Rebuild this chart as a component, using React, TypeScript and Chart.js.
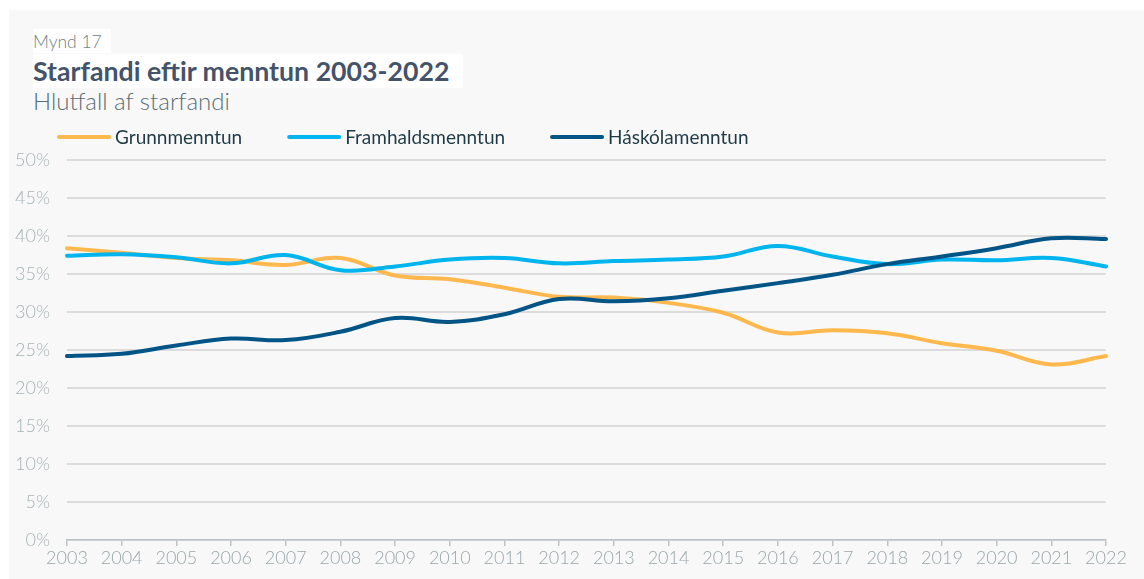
import React, { useEffect, useRef } from "react";
import { Chart, registerables } from "chart.js";

Chart.register(...registerables);

const years = ["2003","2004","2005","2006","2007","2008","2009","2010","2011","2012","2013","2014","2015","2016","2017","2018","2019","2020","2021","2022"];
const grunnmenntun = [38.4, 37.8, 37.1, 36.8, 36.2, 37.1, 34.8, 34.3, 33.2, 32.0, 31.9, 31.2, 29.9, 27.3, 27.6, 27.2, 25.9, 24.9, 23.1, 24.2];
const framhaldsmenntun = [37.4, 37.6, 37.2, 36.4, 37.5, 35.5, 36.0, 36.9, 37.1, 36.4, 36.7, 36.9, 37.3, 38.7, 37.3, 36.3, 36.9, 36.8, 37.1, 36.0];
const haskolamenntun = [24.2, 24.5, 25.6, 26.5, 26.3, 27.4, 29.2, 28.7, 29.7, 31.7, 31.4, 31.8, 32.8, 33.8, 34.9, 36.3, 37.3, 38.4, 39.7, 39.6];
const seriesNames = ["Grunnmenntun", "Framhaldsmenntun", "Háskólamenntun"];
const seriesColors = ["#FFB84D", "#00B4EE", "#005486"];

const legendPlugin = {
  id: "lineLegend",
  afterDraw(chart: any) {
    const ctx = chart.ctx;
    ctx.save();
    ctx.font = "400 19px Lato";
    ctx.textBaseline = "middle";
    let x = 48;
    const y = 17;
    chart.data.datasets.forEach((ds: any) => {
      ctx.strokeStyle = ds.borderColor;
      ctx.lineWidth = 4;
      ctx.lineCap = "round";
      ctx.beginPath();
      ctx.moveTo(x + 2, y);
      ctx.lineTo(x + 52, y);
      ctx.stroke();
      ctx.fillStyle = "#1f3a46";
      ctx.fillText(ds.label, x + 58, y + 1);
      x += 58 + ctx.measureText(ds.label).width + 45;
    });
    ctx.restore();
  },
};

function LineChart() {
  const ref = useRef<HTMLCanvasElement | null>(null);
  useEffect(() => {
    if (!ref.current) return;
    const values = [grunnmenntun, framhaldsmenntun, haskolamenntun];
    const chart = new Chart(ref.current, {
      type: "line",
      data: {
        labels: years,
        datasets: values.map((v, i) => ({
          label: seriesNames[i],
          data: v,
          borderColor: seriesColors[i],
          backgroundColor: seriesColors[i],
          borderWidth: 4,
          pointRadius: 0,
          tension: 0.4,
          fill: false,
          order: 3 - i,
          borderCapStyle: "round",
        })),
      },
      options: {
        animation: false,
        responsive: false,
        maintainAspectRatio: false,
        layout: { padding: { top: 40, right: 38, bottom: 0, left: 0 } },
        plugins: { legend: { display: false }, tooltip: { enabled: false } },
        scales: {
          x: {
            offset: false,
            grid: { drawOnChartArea: false, color: "#bcc3c6", tickLength: 6, lineWidth: 1.5 },
            border: { color: "#bcc3c6", width: 1.5 },
            ticks: { color: "#9aa7ab", font: { family: "Lato", size: 18, weight: "300" }, padding: 1, maxRotation: 0, autoSkip: false },
            afterFit: (axis: any) => { axis.height = 39; },
          },
          y: {
            min: 0,
            max: 50,
            grid: { color: "#dcdcdc", lineWidth: 2, drawTicks: false },
            border: { display: false },
            ticks: {
              stepSize: 5,
              color: "#a6b2b6",
              font: { family: "Lato", size: 18, weight: "300" },
              padding: 17,
              callback: (v: any) => v + "%",
            },
            afterFit: (axis: any) => { axis.width = 58; },
          },
        },
      },
      plugins: [legendPlugin],
    });
    return () => chart.destroy();
  }, []);
  return (
    <canvas
      ref={ref}
      width={1135}
      height={459}
      style={{ position: "absolute", left: 9, top: 120, width: 1135, height: 459 }}
    />
  );
}

export default function App() {
  return (
    <div style={{ position: "absolute", left: 0, top: 0, width: 1144, height: 579, overflow: "hidden", fontFamily: "Lato" }}>
      <div style={{ position: "absolute", left: 9, top: 10, width: 1135, height: 569, background: "#f8f8f8" }} />
      <div style={{ position: "absolute", left: 33, top: 29, width: 78, height: 24, background: "#ffffff" }} />
      <div style={{ position: "absolute", left: 33, top: 54, width: 430, height: 34, background: "#ffffff" }} />
      <div style={{ position: "absolute", left: 33, top: 30.7, fontSize: 17.5, lineHeight: "21px", fontWeight: 300, color: "#6d7f86", whiteSpace: "nowrap" }}>Mynd 17</div>
      <div style={{ position: "absolute", left: 33, top: 54.6, fontSize: 26.7, lineHeight: "32.04px", fontWeight: 700, color: "#44536a", whiteSpace: "nowrap" }}>Starfandi eftir menntun 2003-2022</div>
      <div style={{ position: "absolute", left: 33, top: 87.3, fontSize: 24, lineHeight: "28.8px", fontWeight: 300, color: "#5b6d74", whiteSpace: "nowrap" }}>Hlutfall af starfandi</div>
      <LineChart />
    </div>
  );
}
